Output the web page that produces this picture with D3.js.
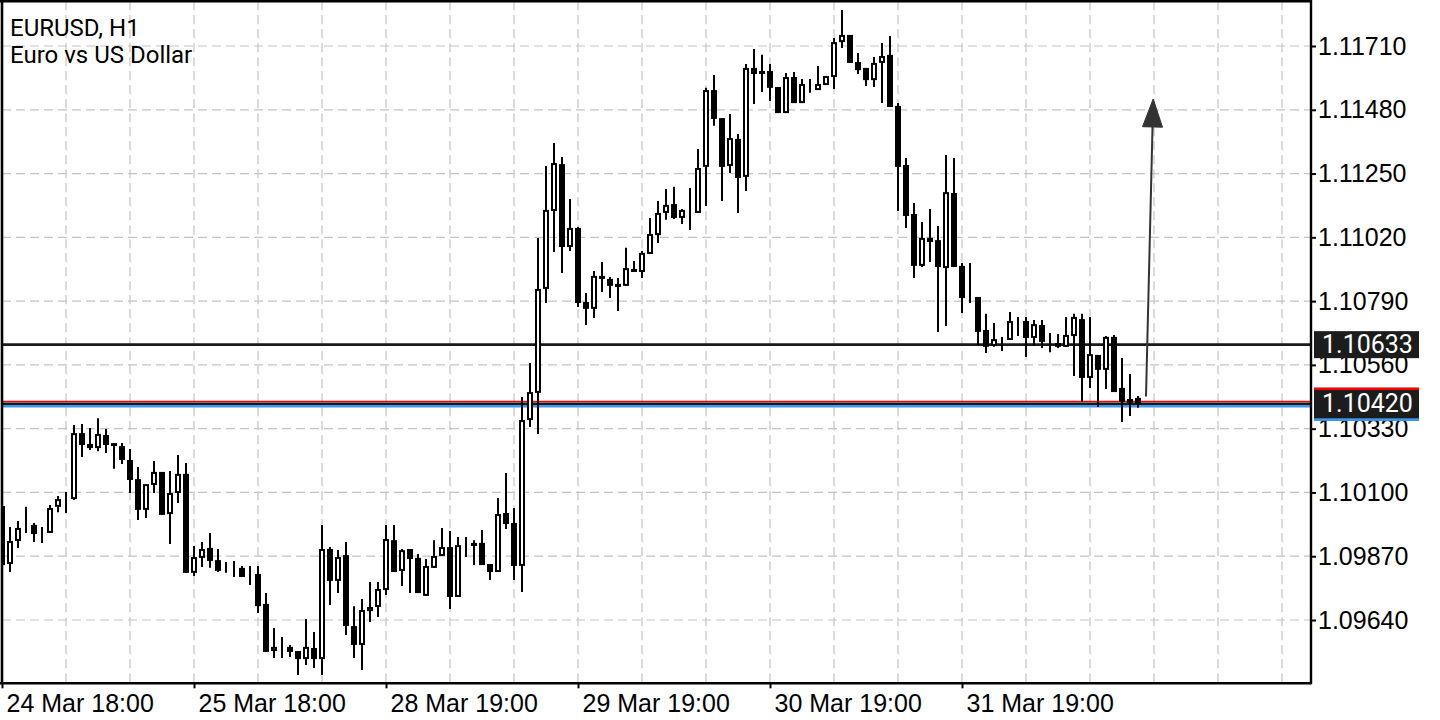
<!DOCTYPE html>
<html>
<head>
<meta charset="utf-8">
<script src="https://cdn.jsdelivr.net/npm/d3@7"></script>
<style>
  html, body { margin: 0; padding: 0; background: #fff; }
  svg { display: block; font-family: Roboto, "Noto Sans", sans-serif; }
</style>
</head>
<body>
<div id="chart"></div>
<script>
// EURUSD H1 candles, one entry per bar (24 Mar 18:00 onwards)
const open = [
  1.10051,1.09842,1.09925,1.09972,1.09983,1.09957,1.09954,1.10048,1.10073,1.10076,
  1.10314,1.10275,1.10260,1.10307,1.10278,1.10267,1.10217,1.10148,1.10037,1.10127,
  1.10174,1.10022,1.10098,1.10167,1.09810,1.09864,1.09900,1.09856,1.09824,1.09824,
  1.09828,1.09802,1.09806,1.09698,1.09528,1.09546,1.09543,1.09528,1.09499,1.09539,
  1.09499,1.09896,1.09781,1.09874,1.09618,1.09550,1.09672,1.09687,1.09748,1.09928,
  1.09817,1.09896,1.09864,1.09727,1.09828,1.09871,1.09903,1.09723,1.09907,1.09918,
  1.09918,1.09842,1.09813,1.10026,1.09990,1.09835,1.10361,1.10459,1.10834,1.11115,
  1.11284,1.10985,1.11054,1.10787,1.10762,1.10881,1.10870,1.10852,1.10845,1.10906,
  1.10895,1.10960,1.11028,1.11108,1.11140,1.11090,1.11115,1.11108,1.11274,1.11551,
  1.11450,1.11277,1.11375,1.11238,1.11631,1.11620,1.11620,1.11562,1.11468,1.11598,
  1.11504,1.11566,1.11551,1.11569,1.11598,1.11724,1.11750,1.11652,1.11631,1.11587,
  1.11649,1.11678,1.11494,1.11281,1.11104,1.10917,1.11018,1.11010,1.10909,1.11180,
  1.10917,1.10805,1.10805,1.10686,1.10628,1.10653,1.10650,1.10718,1.10718,1.10657,
  1.10704,1.10639,1.10639,1.10625,1.10664,1.10725,1.10513,1.10596,1.10542,1.10661,
  1.10477,1.10437,1.10441
];
const high = [
  1.10055,1.09975,1.09997,1.10048,1.09990,1.09975,1.10055,1.10087,1.10102,1.10343,
  1.10347,1.10332,1.10368,1.10329,1.10278,1.10278,1.10257,1.10192,1.10130,1.10213,
  1.10174,1.10177,1.10235,1.10206,1.09907,1.09921,1.09954,1.09896,1.09849,1.09853,
  1.09835,1.09835,1.09835,1.09737,1.09611,1.09579,1.09550,1.09528,1.09644,1.09597,
  1.09983,1.09903,1.09892,1.09921,1.09690,1.09716,1.09777,1.09777,1.09983,1.09983,
  1.09896,1.09896,1.09878,1.09860,1.09928,1.09972,1.09961,1.09939,1.09939,1.09928,
  1.09965,1.09842,1.10080,1.10170,1.10044,1.10444,1.10567,1.11018,1.11277,1.11360,
  1.11310,1.11158,1.11057,1.10819,1.10899,1.10931,1.10877,1.10873,1.10982,1.10935,
  1.10971,1.11090,1.11151,1.11194,1.11202,1.11122,1.11198,1.11339,1.11559,1.11605,
  1.11450,1.11465,1.11393,1.11645,1.11699,1.11678,1.11645,1.11562,1.11613,1.11616,
  1.11591,1.11591,1.11638,1.11602,1.11739,1.11840,1.11750,1.11685,1.11631,1.11670,
  1.11721,1.11746,1.11504,1.11306,1.11144,1.11075,1.11122,1.11061,1.11317,1.11306,
  1.10927,1.10927,1.10805,1.10744,1.10711,1.10661,1.10751,1.10733,1.10733,1.10722,
  1.10722,1.10675,1.10671,1.10733,1.10744,1.10744,1.10733,1.10596,1.10664,1.10668,
  1.10585,1.10527,1.10448
];
const low = [
  1.09828,1.09813,1.09900,1.09954,1.09921,1.09918,1.09954,1.10029,1.10026,1.10073,
  1.10228,1.10253,1.10249,1.10242,1.10185,1.10203,1.10098,1.10001,1.10008,1.10098,
  1.10019,1.09914,1.10062,1.09810,1.09799,1.09831,1.09828,1.09813,1.09810,1.09795,
  1.09795,1.09766,1.09665,1.09525,1.09503,1.09503,1.09507,1.09442,1.09478,1.09467,
  1.09442,1.09694,1.09737,1.09586,1.09503,1.09460,1.09633,1.09651,1.09730,1.09813,
  1.09763,1.09737,1.09737,1.09727,1.09828,1.09871,1.09680,1.09723,1.09867,1.09838,
  1.09838,1.09784,1.09813,1.09968,1.09784,1.09741,1.10336,1.10311,1.10783,1.10967,
  1.10891,1.10971,1.10769,1.10704,1.10729,1.10823,1.10801,1.10754,1.10845,1.10895,
  1.10873,1.10960,1.11000,1.11083,1.11086,1.11068,1.11046,1.11108,1.11133,1.11422,
  1.11151,1.11252,1.11108,1.11187,1.11501,1.11544,1.11512,1.11468,1.11468,1.11504,
  1.11504,1.11541,1.11551,1.11569,1.11555,1.11703,1.11649,1.11609,1.11566,1.11562,
  1.11504,1.11490,1.11115,1.11054,1.10873,1.10913,1.10931,1.10679,1.10700,1.10913,
  1.10747,1.10783,1.10632,1.10603,1.10625,1.10610,1.10650,1.10664,1.10588,1.10628,
  1.10621,1.10606,1.10621,1.10625,1.10520,1.10426,1.10477,1.10408,1.10473,1.10462,
  1.10354,1.10376,1.10405
];
const close = [
  1.09838,1.09925,1.09972,1.09979,1.09950,1.09950,1.10044,1.10076,1.10080,1.10314,
  1.10271,1.10260,1.10311,1.10271,1.10267,1.10217,1.10145,1.10037,1.10130,1.10174,
  1.10019,1.10098,1.10167,1.09810,1.09867,1.09896,1.09853,1.09817,1.09817,1.09820,
  1.09795,1.09799,1.09690,1.09525,1.09543,1.09543,1.09525,1.09499,1.09543,1.09499,
  1.09896,1.09781,1.09867,1.09618,1.09550,1.09676,1.09687,1.09752,1.09932,1.09813,
  1.09892,1.09860,1.09737,1.09835,1.09871,1.09903,1.09723,1.09910,1.09914,1.09907,
  1.09838,1.09813,1.10022,1.09986,1.09835,1.10361,1.10462,1.10834,1.11119,1.11288,
  1.10985,1.11054,1.10783,1.10762,1.10881,1.10870,1.10845,1.10841,1.10909,1.10895,
  1.10964,1.11032,1.11108,1.11137,1.11090,1.11119,1.11108,1.11270,1.11551,1.11447,
  1.11274,1.11378,1.11234,1.11631,1.11609,1.11609,1.11559,1.11468,1.11598,1.11504,
  1.11573,1.11559,1.11573,1.11602,1.11724,1.11750,1.11649,1.11623,1.11587,1.11649,
  1.11674,1.11490,1.11274,1.11097,1.10917,1.11018,1.11003,1.10913,1.11183,1.10913,
  1.10801,1.10798,1.10679,1.10625,1.10653,1.10657,1.10718,1.10711,1.10657,1.10707,
  1.10643,1.10635,1.10625,1.10668,1.10733,1.10513,1.10599,1.10542,1.10661,1.10462,
  1.10426,1.10423,1.10420
];

// axis labels
const yTicks = ["1.09640","1.09870","1.10100","1.10330","1.10560","1.10790","1.11020","1.11250","1.11480","1.11710"];
const xTickIdx = [0, 24, 48, 72, 96, 120];
const xTickLabels = ["24 Mar 18:00","25 Mar 18:00","28 Mar 19:00","29 Mar 19:00","30 Mar 19:00","31 Mar 19:00"];

// horizontal levels and current ask / bid
const levels = [1.10633, 1.10420];
const askPrice = 1.10428;
const bidPrice = 1.10411;
// drawn arrow: [bar index, price]
const arrowFrom = [143, 1.10446];
const arrowTo = [143.9, 1.11519];

const W = 1440, H = 720;
const plot = { left: 2, right: 1311, top: 1.3, bottom: 683.3 };

const svg = d3.select("#chart")
  .append("svg")
  .attr("width", W)
  .attr("height", H);

const data = open.map((o, i) => ({ i: i, o: o, h: high[i], l: low[i], c: close[i] }));

// 8 px per bar, the price axis keeps its own fixed scale
const x = d3.scaleLinear().domain([0, 163]).range([2, 2 + 8 * 163]);
const y = d3.scaleLinear().domain([1.09640, 1.11710]).range([620, 46]);

svg.append("clipPath").attr("id", "plotClip")
  .append("rect")
  .attr("x", plot.left).attr("y", plot.top)
  .attr("width", plot.right - plot.left).attr("height", plot.bottom - plot.top);

// grid
const grid = svg.append("g").attr("clip-path", "url(#plotClip)")
  .attr("stroke", "#c4c4c4").attr("stroke-width", 1.2).attr("stroke-dasharray", "9,5");

grid.selectAll("line.h")
  .data(yTicks)
  .join("line")
  .attr("class", "h")
  .attr("x1", plot.left).attr("x2", plot.right)
  .attr("y1", d => y(+d)).attr("y2", d => y(+d));

grid.selectAll("line.v")
  .data(d3.range(8, 164, 8))
  .join("line")
  .attr("class", "v")
  .attr("x1", d => x(d)).attr("x2", d => x(d))
  .attr("y1", plot.top).attr("y2", plot.bottom);

const chart = svg.append("g").attr("clip-path", "url(#plotClip)");

// ask / bid lines, then level lines
chart.append("line")
  .attr("x1", plot.left).attr("x2", plot.right)
  .attr("y1", y(askPrice)).attr("y2", y(askPrice))
  .attr("stroke", "#ff0000").attr("stroke-width", 1.4);
chart.append("line")
  .attr("x1", plot.left).attr("x2", plot.right)
  .attr("y1", y(bidPrice)).attr("y2", y(bidPrice))
  .attr("stroke", "#3d9bef").attr("stroke-width", 2.4);
chart.selectAll("line.level")
  .data(levels)
  .join("line")
  .attr("class", "level")
  .attr("x1", plot.left).attr("x2", plot.right)
  .attr("y1", d => y(d)).attr("y2", d => y(d))
  .attr("stroke", "#1a1a1a").attr("stroke-width", 2.6);

// candles
const candle = chart.selectAll("g.candle")
  .data(data)
  .join("g")
  .attr("class", "candle");

candle.append("line")
  .attr("x1", d => x(d.i)).attr("x2", d => x(d.i))
  .attr("y1", d => y(d.h)).attr("y2", d => y(d.l))
  .attr("stroke", "#000").attr("stroke-width", 2);

candle.append("rect")
  .attr("x", d => x(d.i) - 2)
  .attr("width", 4)
  .attr("y", d => Math.min(y(d.o), y(d.c)) + 1)
  .attr("height", d => Math.max(0, Math.abs(y(d.o) - y(d.c)) - 2))
  .attr("fill", d => d.c < d.o ? "#000" : "#fff")
  .attr("stroke", "#000").attr("stroke-width", 2);

// arrow object
const ax1 = x(arrowFrom[0]), ay1 = y(arrowFrom[1]);
const ax2 = x(arrowTo[0]), ay2 = y(arrowTo[1]);
const ang = Math.atan2(ay2 - ay1, ax2 - ax1);
const headLen = 28, headW = 10;
const bx = ax2 - headLen * Math.cos(ang), by = ay2 - headLen * Math.sin(ang);
chart.append("line")
  .attr("x1", ax1).attr("y1", ay1).attr("x2", bx).attr("y2", by)
  .attr("stroke", "#333").attr("stroke-width", 2);
chart.append("path")
  .attr("d", d3.line()([
    [ax2, ay2],
    [bx + headW * Math.sin(ang), by - headW * Math.cos(ang)],
    [bx - headW * Math.sin(ang), by + headW * Math.cos(ang)]
  ]) + "Z")
  .attr("fill", "#333").attr("stroke", "#333").attr("stroke-width", 1);

// frame
const frame = svg.append("g").attr("stroke", "#000").attr("stroke-width", 2.6);
frame.append("line").attr("x1", plot.left).attr("x2", plot.left).attr("y1", 0).attr("y2", plot.bottom + 1);
frame.append("line").attr("x1", 0).attr("x2", plot.right).attr("y1", plot.top).attr("y2", plot.top);

// price axis
const yAxis = svg.append("g")
  .attr("transform", `translate(${plot.right},0)`)
  .call(d3.axisRight(y).tickValues(yTicks.map(Number)).tickFormat(d3.format(".5f")).tickSize(5).tickPadding(2));
yAxis.select(".domain").attr("d", `M0,0V${plot.bottom + 1}`).attr("stroke-width", 2.4);
yAxis.selectAll(".tick line").attr("stroke-width", 2);
yAxis.selectAll("text").style("font-size", "25px").attr("fill", "#000");

// time axis
const xAxis = svg.append("g")
  .attr("transform", `translate(0,${plot.bottom})`)
  .call(d3.axisBottom(x).tickValues(xTickIdx).tickFormat((d, i) => xTickLabels[i]).tickSize(5).tickPadding(6));
xAxis.select(".domain").attr("d", `M0,0H${plot.right}`).attr("stroke-width", 2.6);
xAxis.selectAll(".tick line").attr("stroke-width", 2);
xAxis.selectAll("text").style("font-size", "25px").attr("fill", "#000")
  .attr("text-anchor", "start").attr("dx", 4);

// price tags on the right
const tagX = 1314, tagW = 105;
const tag1 = svg.append("g");
tag1.append("rect")
  .attr("x", tagX).attr("y", y(levels[0]) - 13.5)
  .attr("width", tagW).attr("height", 27)
  .attr("fill", "#1c1c1c");
tag1.append("text")
  .attr("x", tagX + 8).attr("y", y(levels[0]))
  .attr("dy", "0.35em")
  .style("font-size", "25px").attr("fill", "#fff")
  .text(d3.format(".5f")(levels[0]));

const tag2 = svg.append("g");
const t2 = y(levels[1]);
tag2.append("rect")
  .attr("x", tagX).attr("y", t2 - 16)
  .attr("width", tagW).attr("height", 33)
  .attr("fill", "#1c1c1c");
tag2.append("rect")
  .attr("x", tagX).attr("y", t2 - 16)
  .attr("width", tagW).attr("height", 2.4)
  .attr("fill", "#ff0000");
tag2.append("rect")
  .attr("x", tagX).attr("y", t2 + 14.6)
  .attr("width", tagW).attr("height", 2.6)
  .attr("fill", "#3d9bef");
tag2.append("text")
  .attr("x", tagX + 8).attr("y", t2)
  .attr("dy", "0.35em")
  .style("font-size", "25px").attr("fill", "#fff")
  .text(d3.format(".5f")(levels[1]));

// symbol title
svg.append("text").attr("x", 10).attr("y", 36)
  .style("font-size", "24px").attr("fill", "#000").text("EURUSD, H1");
svg.append("text").attr("x", 10).attr("y", 63)
  .style("font-size", "24px").attr("fill", "#000").text("Euro vs US Dollar");
</script>
</body>
</html>
